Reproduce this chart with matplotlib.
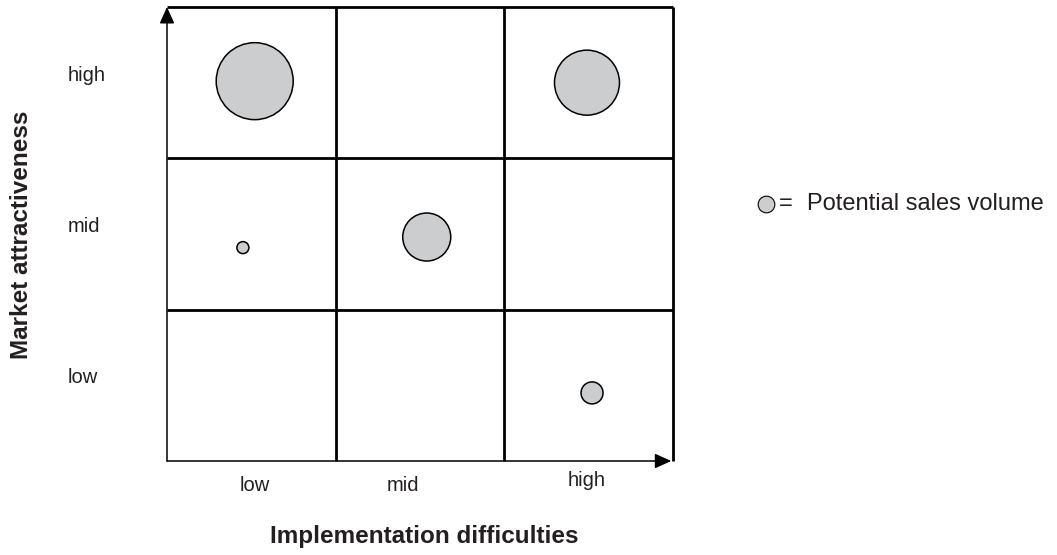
import matplotlib
matplotlib.use('Agg')
import matplotlib.pyplot as plt

plt.rcParams['font.family'] = ['Liberation Sans', 'DejaVu Sans']

# 数据
x_levels = ['low', 'mid', 'high']
y_levels = ['low', 'mid', 'high']

# 气泡: 所在格子(列, 行) + 格内位置 + 大小(直径, px)
bubble_col = [0, 2, 0, 1, 2]
bubble_row = [2, 2, 1, 1, 0]
bubble_dx = [0.52, 0.49, 0.45, 0.54, 0.52]
bubble_dy = [0.51, 0.50, 0.41, 0.48, 0.45]
bubble_size = [77, 65, 12, 48, 22]

x_label_pos = [0.52, 1.40, 2.49]
x_label_off = [-0.165, -0.165, -0.132]

text_color = '#231f20'
fill_color = '#cccdcf'

fig = plt.figure(figsize=(10.57, 5.55), dpi=100)
ax = fig.add_axes([167 / 1057, 1 - 461 / 555, 506 / 1057, 454 / 555])
ax.set_xlim(0, 3)
ax.set_ylim(0, 3)
ax.axis('off')

# 粗网格线
lw = 2.0
ax.plot([0, 3], [3, 3], color='black', lw=lw, clip_on=False, solid_capstyle='butt')
ax.plot([3, 3], [0, 3], color='black', lw=lw, clip_on=False, solid_capstyle='butt')
for v in [1, 2]:
    ax.plot([0, 3], [v, v], color='black', lw=lw, clip_on=False, solid_capstyle='butt')
    ax.plot([v, v], [0, 3], color='black', lw=lw, clip_on=False, solid_capstyle='butt')

# 坐标轴箭头
arrow = dict(arrowstyle='-|>,head_length=1.0,head_width=0.45', color='black', lw=1.1,
             shrinkA=0, shrinkB=0)
ax.annotate('', xy=(0, 3.0), xytext=(0, 0), arrowprops=arrow, annotation_clip=False)
ax.annotate('', xy=(2.99, 0), xytext=(0, 0), arrowprops=arrow, annotation_clip=False)

# 气泡
px = [c + d for c, d in zip(bubble_col, bubble_dx)]
py = [r + d for r, d in zip(bubble_row, bubble_dy)]
sizes = [(d * 0.72) ** 2 for d in bubble_size]
ax.scatter(px, py, s=sizes, color=fill_color, edgecolors='black', linewidths=1.1,
           zorder=3, clip_on=False)

# 刻度标签
for lab, xp, off in zip(x_levels, x_label_pos, x_label_off):
    ax.text(xp, off, lab, ha='center', va='center', fontsize=14.5, color=text_color)
for i, lab in enumerate(y_levels):
    ax.text(-0.587, i + 0.55, lab, ha='left', va='center', fontsize=14.5, color=text_color)

# 轴标题
fig.text(22 / 1057, 1 - 235 / 555, 'Market attractiveness', rotation=90, ha='center',
         va='center', fontsize=17.5, fontweight='bold', color=text_color)
fig.text(424 / 1057, 1 - 537 / 555, 'Implementation difficulties', ha='center',
         va='center', fontsize=17.5, fontweight='bold', color=text_color)

# 图例
lx, ly = 766 / 1057, 1 - 204 / 555
fig.add_artist(plt.Line2D([lx], [ly], marker='o', markersize=12, markerfacecolor=fill_color,
                          markeredgecolor='black', markeredgewidth=0.8,
                          transform=fig.transFigure))
fig.text(779 / 1057, ly, '=', ha='left', va='center', fontsize=17, color=text_color)
fig.text(807 / 1057, ly, 'Potential sales volume', ha='left', va='center', fontsize=17,
         color=text_color)

fig.savefig('out.png', dpi=100)
